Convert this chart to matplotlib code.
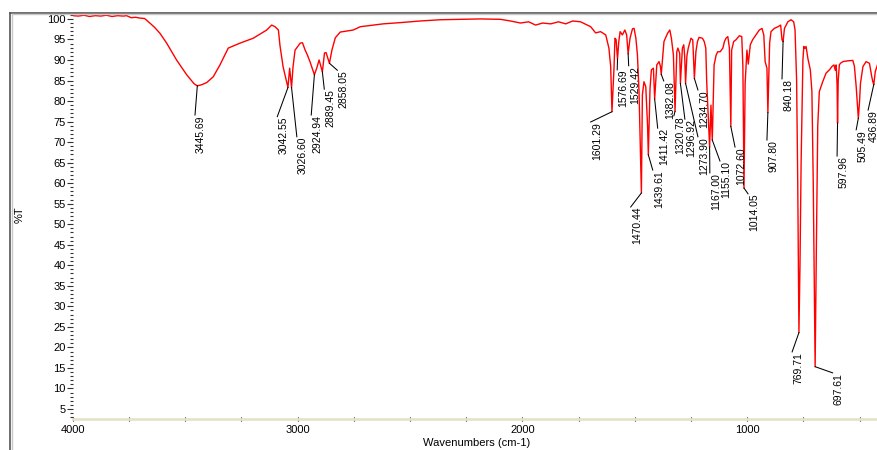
import matplotlib
matplotlib.use("Agg")
import matplotlib.pyplot as plt
from matplotlib.lines import Line2D
from matplotlib.ticker import MultipleLocator

plt.rcParams['font.family'] = ['Liberation Sans', 'DejaVu Sans']

# spectrum (wavenumber cm-1, %T)
wavenumber = [4000, 3975, 3950, 3925, 3900, 3875, 3850, 3825, 3800, 3775, 3760, 3740, 3720, 3700,
              3680, 3657, 3635, 3612, 3582, 3538, 3493, 3460, 3445.69, 3425, 3404, 3375, 3345,
              3308, 3256, 3197, 3137, 3115, 3100, 3085, 3078, 3064, 3050, 3042.55, 3035, 3026.60,
              3020, 3011, 2988, 2978, 2966, 2956, 2944, 2924.94, 2914, 2904, 2889.45, 2880, 2873,
              2858.05, 2847, 2832, 2810, 2752, 2721, 2619, 2543, 2454, 2365, 2275, 2186, 2097,
              2053, 2008, 1972, 1941, 1910, 1874, 1839, 1807, 1776, 1741, 1696, 1674, 1652, 1629,
              1615, 1607, 1601.29, 1592, 1588, 1583, 1576.69, 1571, 1565, 1555, 1544, 1536,
              1529.42, 1521, 1510, 1503, 1495, 1488, 1481, 1470.44, 1466, 1459, 1451, 1443,
              1439.61, 1432, 1426, 1417, 1411.42, 1402, 1392, 1386, 1382.08, 1370, 1354, 1344,
              1337, 1328, 1320.78, 1313, 1308, 1300, 1296.92, 1288, 1282, 1278, 1273.90, 1268,
              1262, 1250, 1242, 1234.70, 1228, 1221, 1214, 1199, 1191, 1184, 1180, 1167.00, 1161,
              1155.10, 1147, 1138, 1131, 1120, 1108, 1101, 1094, 1086, 1079, 1072.60, 1069, 1060,
              1050, 1035, 1024, 1019, 1014.05, 1009, 1001, 995, 986, 976, 961, 946, 934, 926, 920,
              912, 907.80, 900, 894, 879, 863, 851, 845, 840.18, 834, 819, 805, 793, 787, 780,
              775, 769.71, 765, 760, 756, 752, 748, 743, 738, 730, 719, 712, 706, 697.61, 692,
              686, 679, 664, 649, 634, 623, 614, 608, 604, 600, 597.96, 595, 590, 585, 574, 552,
              530, 523, 515, 508, 505.49, 500, 496, 485, 471, 456, 446, 441, 436.89, 430, 418]
transmittance = [100.8, 100.7, 100.9, 100.6, 100.8, 100.7, 100.9, 100.6, 100.8, 100.7, 100.8, 100.3,
                 100.4, 100.2, 100.1, 99.0, 97.9, 96.5, 94.1, 90.0, 86.4, 84.2, 83.7, 84.0, 84.5,
                 85.9, 88.8, 92.9, 94.1, 95.3, 97.3, 98.5, 98.1, 97.3, 93.5, 88.3, 85.0, 83.3, 88.0,
                 83.3, 88.3, 92.4, 94.1, 94.2, 92.4, 91.2, 89.5, 86.4, 88.1, 90.0, 87.1, 91.7, 91.8,
                 89.2, 92.4, 95.4, 96.8, 97.3, 98.1, 98.8, 99.1, 99.5, 99.8, 99.9, 100.0, 99.9,
                 99.5, 99.0, 99.3, 98.5, 99.0, 98.8, 99.3, 98.8, 99.5, 99.3, 98.1, 96.6, 96.9, 96.1,
                 92.9, 88.4, 77.4, 88.4, 95.3, 95.0, 90.2, 94.5, 96.9, 96.1, 97.3, 96.1,
                 91.5, 95.3, 97.6, 97.7, 95.3, 91.2, 82.3, 57.6, 81.5, 84.7, 83.5, 74.0,
                 66.9, 83.1, 87.6, 88.0, 80.5, 88.8, 89.6, 88.5, 86.5, 94.5, 96.5, 97.3,
                 95.3, 91.2, 77.5, 92.0, 92.9, 91.6, 84.3, 92.9, 93.7, 91.0, 84.3, 91.0,
                 92.9, 95.3, 94.9, 85.5, 92.0, 94.5, 95.5, 95.3, 94.5, 92.9, 84.7, 68.8, 79.0,
                 70.5, 88.8, 91.2, 92.0, 92.0, 92.9, 94.5, 95.3, 95.7, 92.9, 73.8, 92.4, 94.5,
                 94.9, 95.9, 95.7, 88.4, 58.8, 84.3, 92.4, 89.0, 93.7, 94.9, 96.1, 97.3, 97.7, 96.1, 89.6,
                 88.0, 77.2, 94.1, 96.9, 97.7, 98.1, 98.5, 94.9, 94.5, 97.7, 99.3, 99.8, 99.3, 97.3, 85.0,
                 60.0, 23.6, 40.0, 65.0, 78.0, 90.0, 93.3, 92.8, 93.3, 90.4, 87.6, 82.3, 60.0, 15.3, 45.0,
                 74.0, 82.3, 84.7, 86.8, 87.6, 88.4, 88.8, 87.5, 88.8, 84.0, 74.6, 85.0, 88.8, 89.2, 89.6, 89.8,
                 89.9, 88.5, 83.5, 77.8, 75.8, 80.0, 84.3, 88.4, 89.6, 89.2, 86.0, 84.7, 84.0, 87.2, 89.2]

# peak labels: peak position and where the leader line ends
peak_labels = ['3445.69', '3042.55', '3026.60', '2924.94', '2889.45', '2858.05', '1601.29',
               '1576.69', '1529.42', '1470.44', '1439.61', '1411.42', '1382.08', '1320.78',
               '1296.92', '1273.90', '1234.70', '1167.00', '1155.10', '1072.60', '1014.05',
               '907.80', '840.18', '769.71', '697.61', '597.96', '505.49', '436.89']
peak_T = [83.7, 83.3, 83.3, 86.4, 87.1, 89.2, 77.4, 90.2, 91.5, 57.6, 66.9, 80.5, 86.5, 77.5,
          84.3, 84.3, 85.5, 68.8, 70.5, 73.8, 58.8, 77.2, 94.5, 23.6, 15.3, 74.6, 75.8, 84.0]
label_wn = [3456, 3090, 3003, 2939, 2881, 2823, 1696, 1578, 1527, 1518, 1420, 1398, 1371, 1326,
            1277, 1219, 1219, 1166, 1121, 1054, 996, 912, 845, 800, 620, 600, 515, 462]
label_T = [76.6, 76.2, 71.3, 76.6, 82.9, 87.5, 74.9, 87.6, 88.6, 54.2, 63.2, 73.4, 84.9, 76.4,
           75.6, 71.3, 82.7, 62.5, 65.4, 68.8, 57.4, 70.5, 85.4, 18.9, 13.8, 66.6, 73.0, 77.8]

W, H = 878, 450
fig = plt.figure(figsize=(W / 100, H / 100), dpi=100)
ax = fig.add_axes([72.7 / W, 1 - 419 / H, 1 - 72.7 / W, (419 - 14) / H])
ax.plot(wavenumber, transmittance, color='red', lw=1)

for lab, T, lw_, lT in zip(peak_labels, peak_T, label_wn, label_T):
    pw = float(lab)
    ax.plot([pw, lw_], [T, lT], color='black', lw=0.75)
    ax.annotate(lab, xy=(lw_, lT), xytext=(0.8, 0), textcoords='offset points',
                rotation=90, ha='left', va='top', fontsize=7.5)

ax.set_xlim(4000, 418)
ax.set_ylim(2.56, 101.2)
ax.xaxis.set_major_locator(MultipleLocator(1000))
ax.xaxis.set_minor_locator(MultipleLocator(250))
ax.yaxis.set_minor_locator(MultipleLocator(1))
ax.set_yticks(range(5, 101, 5))
ax.tick_params(axis='y', which='major', direction='out', length=4, width=0.8, color='#333333',
               labelsize=8, pad=1)
ax.tick_params(axis='y', which='minor', direction='out', length=2.5, width=0.8, color='#333333')
ax.tick_params(axis='x', which='both', direction='inout', length=3, width=0.8, color='black',
               labelsize=8, pad=3)
for s in ['top', 'right', 'left']:
    ax.spines[s].set_visible(False)
ax.spines['bottom'].set_color('#e6e2cc')
ax.spines['bottom'].set_linewidth(2)

fig.text(477 / W, 1 - 443 / H, 'Wavenumbers (cm-1)', ha='center', va='center', fontsize=8)
fig.text(20 / W, 1 - 215 / H, '%T', rotation=90, ha='center', va='center', fontsize=8)

# outer window frame
fig.add_artist(Line2D([10.5 / W, 10.5 / W], [0, 1 - 12.5 / H], color='#555555', lw=1.2))
fig.add_artist(Line2D([10.5 / W, 1], [1 - 12.5 / H, 1 - 12.5 / H], color='#555555', lw=1.2))
fig.add_artist(Line2D([12 / W, 12 / W], [0, 1 - 14 / H], color='#c8c8c8', lw=1))
fig.add_artist(Line2D([12 / W, 1], [1 - 14 / H, 1 - 14 / H], color='#c8c8c8', lw=1))

fig.savefig('out.png', dpi=100)
